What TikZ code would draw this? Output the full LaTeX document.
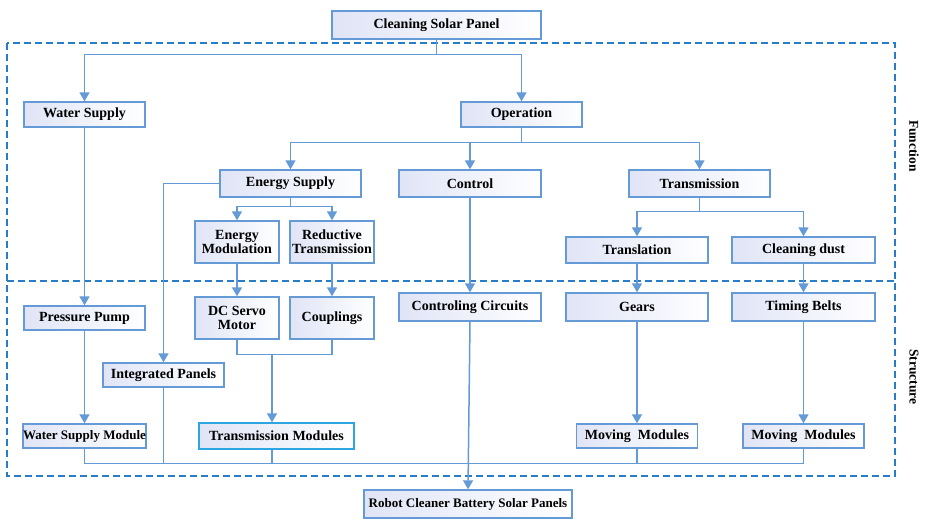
\documentclass[tikz,border=0pt]{standalone}
\usepackage{fontspec}
\setmainfont{Liberation Serif}
\usetikzlibrary{arrows.meta}
\definecolor{boxline}{RGB}{100,155,214}
\definecolor{dashline}{RGB}{40,125,200}
\definecolor{lav}{RGB}{224,228,246}
\definecolor{cyanline}{RGB}{45,165,225}
\begin{document}
\begin{tikzpicture}[x=1pt,y=-1pt,
  blk/.style={draw=boxline,line width=1.4pt,left color=lav,middle color=white,right color=white,
    inner sep=0pt,align=center,font=\fontsize{14}{14}\selectfont\bfseries},
  small/.style={font=\fontsize{13}{14}\selectfont\bfseries},
  arr/.style={draw=boxline,line width=1.5pt,-{Triangle[width=10pt,length=9pt]}},
  ln/.style={draw=boxline,line width=1.5pt},
  sidelbl/.style={rotate=-90,font=\fontsize{13.5}{14}\selectfont\bfseries}]
\useasboundingbox[fill=white] (0,0) rectangle (926,520);
%%% Function and Structure frames
\draw[dashline,line width=1.4pt,dash pattern=on 7pt off 4pt] (7,43) rectangle (895,476);
\draw[dashline,line width=1.4pt,dash pattern=on 7pt off 4pt] (7,281) -- (895,281);
\node[sidelbl] (fun) at (914,146) {Function};
\node[sidelbl] (str) at (914,377) {Structure};
%%% function level
\node[blk,minimum width=209pt,minimum height=28pt] (csp) at (436.5,25) {Cleaning Solar Panel};
\node[blk,minimum width=121pt,minimum height=25pt] (ws) at (84.5,114.5) {Water Supply};
\node[blk,minimum width=121pt,minimum height=25pt] (op) at (521.5,114.5) {Operation};
\node[blk,minimum width=141pt,minimum height=27pt] (es) at (290.5,183.5) {Energy Supply};
\node[blk,minimum width=142pt,minimum height=27pt] (ctl) at (470,183.5) {Control};
\node[blk,minimum width=141pt,minimum height=27pt] (tr) at (699.5,183.5) {Transmission};
\node[blk,minimum width=84pt,minimum height=42pt] (em) at (237,242) {Energy\\Modulation};
\node[blk,minimum width=84pt,minimum height=42pt] (rt) at (332,242) {Reductive\\Transmission};
\node[blk,minimum width=142pt,minimum height=26pt] (tl) at (637,250) {Translation};
\node[blk,minimum width=143pt,minimum height=26pt] (cd) at (803.5,250) {Cleaning dust};
%%% structure level
\node[blk,minimum width=121pt,minimum height=24pt] (pp) at (84.5,318) {Pressure Pump};
\node[blk,minimum width=84pt,minimum height=42pt] (dc) at (237,318) {DC Servo\\Motor};
\node[blk,minimum width=84pt,minimum height=42pt] (cp) at (332,318) {Couplings};
\node[blk,minimum width=142pt,minimum height=28pt] (cc) at (470,307) {Controling Circuits};
\node[blk,minimum width=142pt,minimum height=28pt] (gr) at (637,307) {Gears};
\node[blk,minimum width=143pt,minimum height=28pt] (tb) at (803.5,307) {Timing Belts};
\node[blk,minimum width=121pt,minimum height=24pt] (ip) at (163.5,375) {Integrated Panels};
\node[blk,small,minimum width=121pt,minimum height=24pt] (wsm) at (84.5,436) {Water Supply Module};
\node[blk,draw=cyanline,minimum width=155pt,minimum height=26pt] (tm) at (276.5,436) {Transmission Modules};
\node[blk,minimum width=121pt,minimum height=24pt] (mm1) at (637,436) {Moving\ \ Modules};
\node[blk,minimum width=121pt,minimum height=24pt] (mm2) at (803.5,436) {Moving\ \ Modules};
\node[blk,small,minimum width=208pt,minimum height=28pt] (rc) at (468,504) {Robot Cleaner Battery Solar Panels};
%%% connectors
\draw[ln] (csp.south) -- ++(0,15) coordinate (b1);
\draw[arr] (b1) -| (ws.north);
\draw[arr] (b1) -| (op.north);
\draw[ln] (op.south) -- ++(0,15) coordinate (b2);
\draw[arr] (b2) -| (es.north);
\draw[arr] (b2) -| (ctl.north);
\draw[arr] (b2) -| (tr.north);
\draw[ln] (es.south) -- ++(0,9) coordinate (b3);
\draw[arr] (b3) -| (em.north);
\draw[arr] (b3) -| (rt.north);
\draw[ln] (tr.south) -- ++(0,14) coordinate (b4);
\draw[arr] (b4) -| (tl.north);
\draw[arr] (b4) -| (cd.north);
\draw[arr] (es.west) -| (ip.north);
\draw[arr] (ws.south) -- (pp.north);
\draw[arr] (pp.south) -- (wsm.north);
\draw[arr] (em.south) -- (dc.north);
\draw[arr] (rt.south) -- (cp.north);
\draw[arr] (ctl.south) -- (cc.north);
\draw[arr] (tl.south) -- (gr.north);
\draw[arr] (cd.south) -- (tb.north);
\draw[ln] (dc.south) -- ++(0,15) -| (cp.south);
\coordinate (b5) at (272,354);
\draw[arr] (b5) -- (b5 |- tm.north);
\draw[arr] (gr.south) -- (mm1.north);
\draw[arr] (tb.south) -- (mm2.north);
\draw[ln] (wsm.south) -- ++(0,15) coordinate (b6) -| (mm2.south);
\draw[ln] (ip.south) -- (ip.south |- b6);
\draw[ln] (b5 |- tm.south) -- (b5 |- b6);
\draw[ln] (mm1.south) -- (mm1.south |- b6);
\draw[arr] (cc.south) -- (rc.north);
\end{tikzpicture}
\end{document}
